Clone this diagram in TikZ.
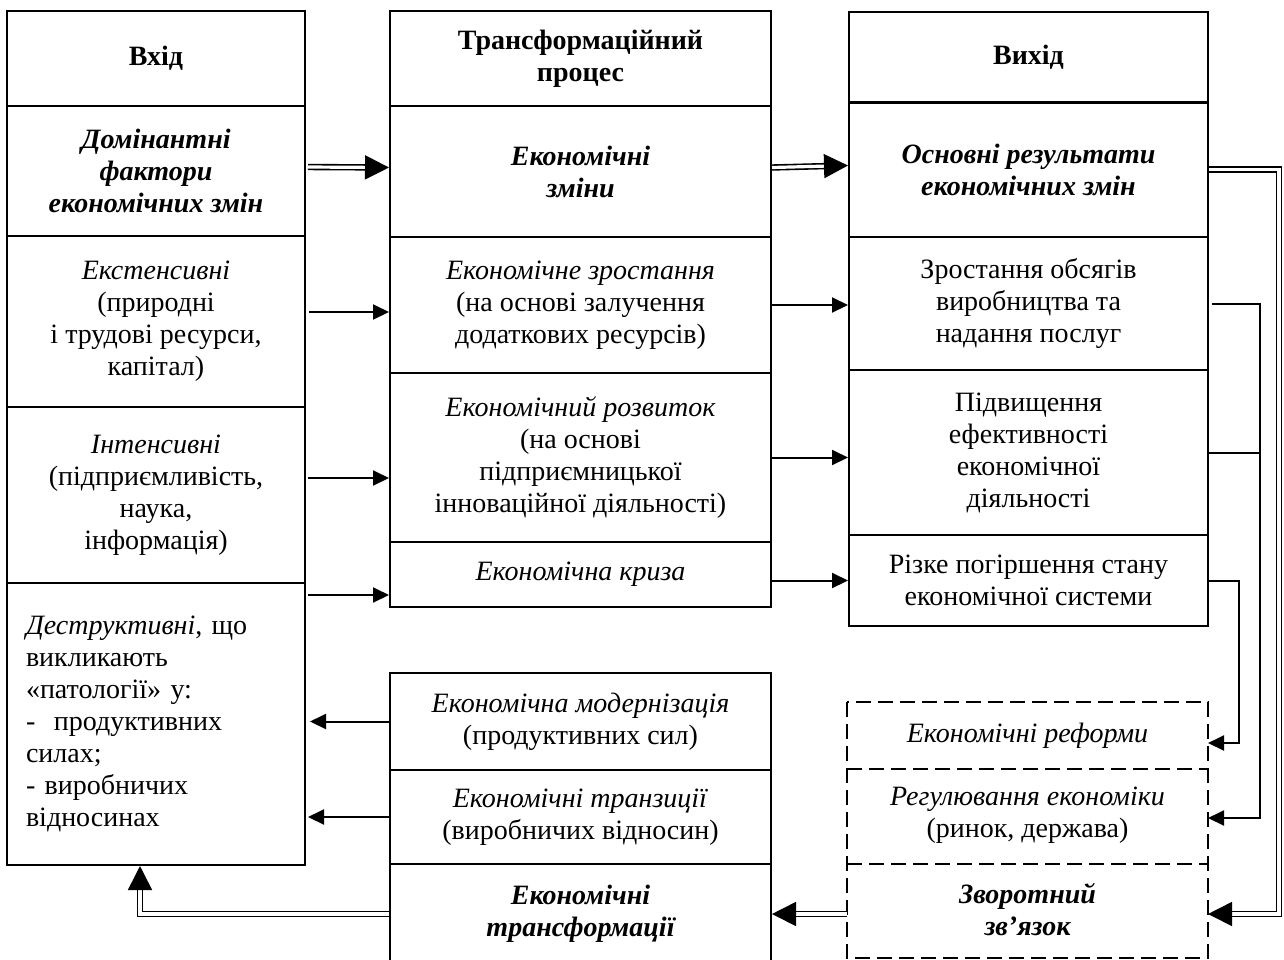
\documentclass[tikz,border=0pt]{standalone}
\usepackage{fontspec}
\setmainfont{Liberation Serif}
\usetikzlibrary{arrows.meta,positioning}
\newcommand{\cellfont}{\fontsize{14}{16}\selectfont}
\tikzstyle{cell} = [draw, line width=1pt, text centered, align=center, inner sep=2pt, font=\cellfont]
\tikzstyle{bold} = [font=\cellfont\bfseries]
\tikzstyle{bolditalic} = [font=\cellfont\bfseries\itshape]
\tikzstyle{italic} = [font=\cellfont\itshape]
\tikzstyle{incell} = [cell, minimum width=149pt]
\tikzstyle{proccell} = [cell, minimum width=190.5pt]
\tikzstyle{outcell} = [cell, minimum width=179.5pt]
\tikzstyle{fbcell} = [outcell, draw=none]
\tikzstyle{fbline} = [draw, line width=1pt, dash pattern=on 7.5pt off 3.5pt]
\tikzstyle{arrow} = [draw, line width=1pt, -{Triangle[length=8pt,width=7.5pt]}]
\tikzstyle{line} = [draw, line width=1pt]
\tikzstyle{dblarrow} = [draw, double, double distance=1.6pt, line width=0.8pt, -{Triangle[length=12pt,width=12pt]}]
\begin{document}
\begin{tikzpicture}[x=0.5pt,y=-0.5pt]
\useasboundingbox (0,0) rectangle (1284,959);
% input
\node (in0) [incell, bold, minimum height=47.5pt] at (156,58.5) {Вхід};
\node (in1) [incell, bolditalic, minimum height=65pt] at (156,171) {Домінантні\\фактори\\економічних змін};
\node (in2) [incell, minimum height=85.5pt] at (156,321.5) {\textit{Екстенсивні}\\(природні\\і трудові ресурси,\\капітал)};
\node (in3) [incell, minimum height=88pt] at (156,495) {\textit{Інтенсивні}\\(підприємливість,\\наука,\\інформація)};
\node (in4) [incell, minimum height=141pt, align=left, text width=130pt, inner xsep=9.5pt] at (156,724) {\textit{Деструктивні}, що\\викликають\\«патології» у:\\- \ продуктивних\\силах;\\- виробничих\\відносинах};
% process
\node (pr0) [proccell, bold, minimum height=47.5pt] at (580.5,58.5) {Трансформаційний\\процес};
\node (pr1) [proccell, bolditalic, minimum height=65.5pt] at (580.5,171.5) {Економічні\\зміни};
\node (pr2) [proccell, minimum height=68pt] at (580.5,305) {\textit{Економічне зростання}\\(на основі залучення\\додаткових ресурсів)};
\node (pr3) [proccell, minimum height=84.5pt] at (580.5,457.5) {\textit{Економічний розвиток}\\(на основі\\підприємницької\\інноваційної діяльності)};
\node (pr4) [proccell, italic, minimum height=32.5pt] at (580.5,574.5) {Економічна криза};
\node (tr0) [proccell, minimum height=48.5pt] at (580.5,721.5) {\textit{Економічна модернізація}\\(продуктивних сил)};
\node (tr1) [proccell, minimum height=47pt] at (580.5,817) {\textit{Економічні транзиції}\\(виробничих відносин)};
\node (tr2) [proccell, bolditalic, minimum height=50pt] at (580.5,914) {Економічні\\трансформації};
% output
\node (out0) [outcell, bold, minimum height=45.5pt] at (1028.5,57.5) {Вихід};
\node (out1) [outcell, bolditalic, minimum height=67.5pt] at (1028.5,169.5) {Основні результати\\економічних змін};
\node (out2) [outcell, minimum height=66.5pt] at (1028.5,303.5) {Зростання обсягів\\виробництва та\\надання послуг};
\node (out3) [outcell, minimum height=82.5pt] at (1028.5,452.5) {Підвищення\\ефективності\\економічної\\діяльності};
\node (out4) [outcell, minimum height=45.5pt] at (1028.5,580.5) {Різке погіршення стану\\економічної системи};
\node (fb0) [fbcell, italic, minimum height=32.5pt] at (1027.5,735.5) {Економічні реформи};
\node (fb1) [fbcell, minimum height=47.5pt] at (1027.5,815.5) {\textit{Регулювання економіки}\\(ринок, держава)};
\node (fb2) [fbcell, bolditalic, minimum height=47pt] at (1027.5,910) {Зворотний\\зв’язок};
\path [fbline] (fb0.north west) rectangle (fb2.south east);
\path [fbline] (fb0.south west) -- (fb0.south east);
\path [fbline] (fb1.south west) -- (fb1.south east);

\path [dblarrow, shorten <=1pt] ([yshift=2pt]in1.east) -- ([yshift=2pt]pr1.west);
\path [dblarrow] ([yshift=2pt]pr1.east) -- ([yshift=2pt]out1.west);

\path (pr2.west) ++(0,7) coordinate (e2);
\path (pr3.west) ++(0,20.5) coordinate (e3);
\path (pr4.west) ++(0,20.5) coordinate (e4);
\path [arrow, shorten <=1.5pt] (in2.east |- e2) -- (e2);
\path [arrow, shorten <=1pt] (in3.east |- e3) -- (e3);
\path [arrow, shorten <=1pt] (in4.east |- e4) -- (e4);
\path [arrow] (pr2.east) -- (pr2.east -| out2.west);
\path [arrow] (pr3.east) -- (pr3.east -| out3.west);
\path [arrow] (pr4.east |- out4.west) -- (out4.west);

\path [arrow, shorten >=2pt] (tr0.west) -- (tr0.west -| in4.east);
\path [arrow, shorten >=1pt] (tr1.west) -- (tr1.west -| in4.east);
\path [dblarrow] (tr2.west) -| ([xshift=-8pt]in4.south);
\path [dblarrow] (fb2.west |- tr2.east) -- (tr2.east);

% feedback
\path [dblarrow] (out1.east) -- ++(70,0) |- (fb2.east |- tr2.east);
\path [arrow, shorten <=1.5pt] (out2.east) -- ++(51,0) coordinate (v2) |- ([yshift=-1.25pt]fb1.east);
\path [line] (out3.east) -- (out3.east -| v2);
\path [arrow] (out4.east) -- ++(30,0) |- ([yshift=-3.75pt]fb0.east);
\end{tikzpicture}
\end{document}
